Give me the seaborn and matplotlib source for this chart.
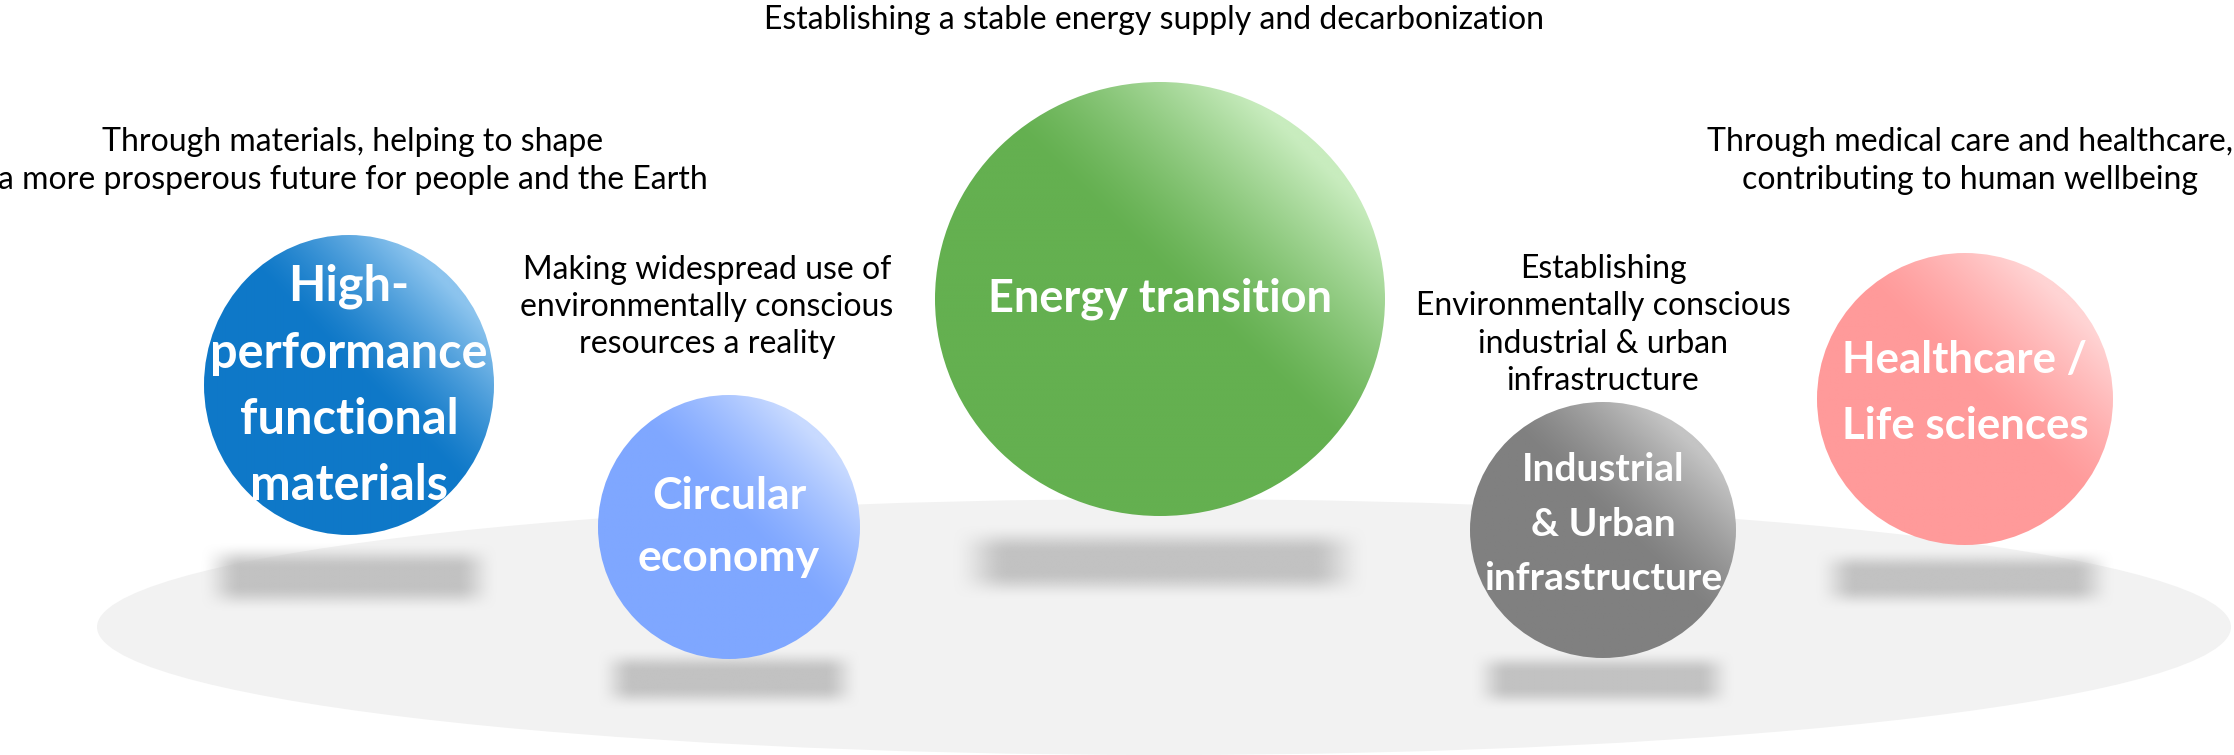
import numpy as np
import matplotlib.pyplot as plt
import matplotlib.patches as mpatches
from matplotlib.colors import to_rgb
import seaborn as sns

# five business themes and the aim written next to each
themes = ["High-\nperformance\nfunctional\nmaterials",
          "Circular\neconomy",
          "Energy transition",
          "Industrial\n& Urban\ninfrastructure",
          "Healthcare /\nLife sciences"]
aims = ["Through materials, helping to shape\na more prosperous future for people and the Earth",
        "Making widespread use of\nenvironmentally conscious\nresources a reality",
        "Establishing a stable energy supply and decarbonization",
        "Establishing\nEnvironmentally conscious\nindustrial & urban\ninfrastructure",
        "Through medical care and healthcare,\ncontributing to human wellbeing"]

# layout (pixels, y downwards)
centres = [(349, 385), (729, 527), (1160, 299), (1603, 530), (1965, 399)]
radii = [(145, 150), (131, 132), (225, 217), (133, 128), (148, 146)]
label_y = [386, 527, 299, 524, 393]
label_size = [35, 32, 32.5, 28, 31.5]
label_spacing = [1.58, 1.69, 1.2, 1.68, 1.79]
shadow_y = [577, 679, 562, 680, 579]
shadow_w = [300, 266, 420, 266, 302]
shadow_h = [70, 62, 76, 60, 62]
aim_pos = [(353, 161), (707, 307), (1154, 20), (1603, 325), (1970, 161)]

base_cols = ["#0e78c8", "#7fa7ff", "#64b050", "#808080", "#ff9a9a"]
light_cols = ["#8cc4ee", "#c8daff", "#c8ecbe", "#c4c4c4", "#ffd4d4"]

sns.set_theme(style="white")
plt.rcParams['font.family'] = ['Lato', 'DejaVu Sans']

fig = plt.figure(figsize=(22.34, 7.55), dpi=100)
ax = fig.add_axes([0, 0, 1, 1])
ax.axis('off')

# grey platform
ax.add_patch(mpatches.Ellipse((1164, 627), 2134, 256, facecolor="#f2f2f2",
                              edgecolor='none', zorder=1))

# soft blurred shadows under each sphere
g = np.linspace(0, 1, 160)
gx, gy = np.meshgrid(g, g)
fx = np.clip(np.minimum(gx, 1 - gx) / 0.14, 0, 1)
fy = np.clip(np.minimum(gy, 1 - gy) / 0.38, 0, 1)
fade = (fx * fx * (3 - 2 * fx)) * (fy * fy * (3 - 2 * fy))
shadow = np.zeros((160, 160, 4))
shadow[..., :3] = to_rgb("#c2c2c2")
shadow[..., 3] = fade
for (cx, cy), sy, sw, sh in zip(centres, shadow_y, shadow_w, shadow_h):
    ax.imshow(shadow, extent=(cx - sw / 2, cx + sw / 2, sy + sh / 2, sy - sh / 2),
              origin='upper', aspect='auto', zorder=2, interpolation='bilinear')

# spheres with diagonal gradient
n = 300
s = np.linspace(-1, 1, n)
X, Y = np.meshgrid(s, s)
u = (X - Y) / np.sqrt(2)
w = np.clip((u - 0.1) / 0.85, 0, 1) ** 1.3
for i, ((cx, cy), (rx, ry)) in enumerate(zip(centres, radii)):
    ell = mpatches.Ellipse((cx, cy), 2 * rx, 2 * ry, facecolor='none',
                           edgecolor='none', zorder=3)
    ax.add_patch(ell)
    b = np.array(to_rgb(base_cols[i]))
    l = np.array(to_rgb(light_cols[i]))
    img = b + (l - b) * w[..., None]
    im = ax.imshow(img, extent=(cx - rx, cx + rx, cy + ry, cy - ry),
                   origin='upper', aspect='auto', zorder=3, interpolation='bilinear')
    im.set_clip_path(ell)
    t = ax.text(cx, label_y[i], themes[i], ha='center', va='center', color='white',
                fontsize=label_size[i], fontweight='bold',
                linespacing=label_spacing[i], zorder=4)
    t.set_clip_path(ell)

for (x, y), txt in zip(aim_pos, aims):
    ax.text(x, y, txt, ha='center', va='center', fontsize=23, color='black',
            linespacing=1.3, zorder=4)

ax.set_xlim(0, 2234)
ax.set_ylim(755, 0)
fig.savefig('out.png', dpi=100)
